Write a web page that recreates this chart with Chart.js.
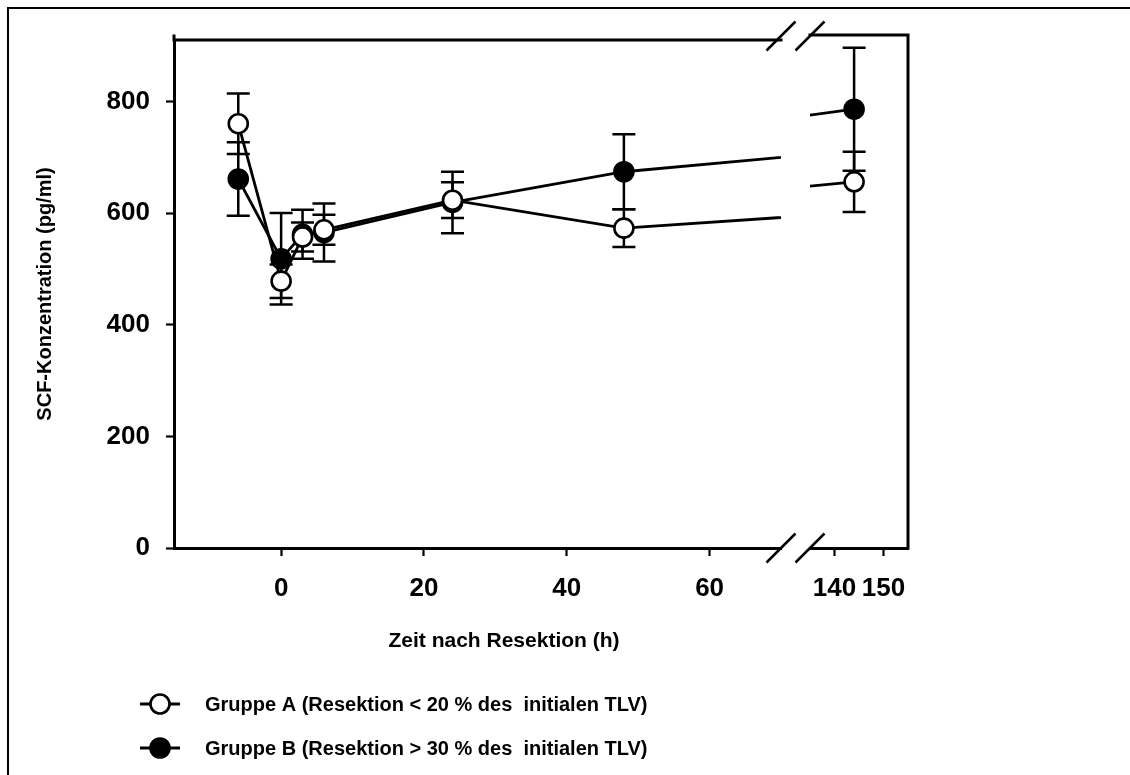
<!DOCTYPE html>
<html>
<head>
<meta charset="utf-8">
<title>SCF-Konzentration nach Resektion</title>
<script src="https://cdn.jsdelivr.net/npm/chart.js@4/dist/chart.umd.min.js"></script>
<style>
  html, body { margin: 0; padding: 0; background: #fff; }
  canvas { display: block; }
</style>
</head>
<body>
<canvas id="chart" width="1130" height="775"></canvas>
<script>
// Sampling times (hours after resection) and mean SCF values with error bars
const hours = [-6, 0, 3, 6, 24, 48, 144];
const groupA = [760, 478, 557, 570, 623, 573, 656];
const groupAErr = [54, 30, 26, 27, 32, 34, 54];
const groupB = [661, 518, 562, 565, 619, 674, 786];
const groupBErr = [66, 82, 44, 52, 55, 67, 110];

// Axis ticks: the time axis is broken between 70 h and 135 h
const yTicks = [0, 200, 400, 600, 800];
const xTicksEarly = [0, 20, 40, 60];
const xTicksLate = [140, 150];

const yTitle = 'SCF-Konzentration (pg/ml)';
const xTitle = 'Zeit nach Resektion (h)';
const legendLabels = [
  'Gruppe A (Resektion < 20 % des  initialen TLV)',
  'Gruppe B (Resektion > 30 % des  initialen TLV)'
];

const FONT = '"Liberation Sans", Arial, Helvetica, sans-serif';
Chart.defaults.font.family = FONT;
Chart.defaults.color = '#000';

const toPoints = arr => hours.map((h, i) => ({ x: h, y: arr[i] }));

function lineSet(arr, axis) {
  return {
    data: toPoints(arr), xAxisID: axis, yAxisID: 'y',
    borderColor: '#000', borderWidth: 2.8, pointRadius: 0,
    fill: false, tension: 0, order: 3, clip: false
  };
}
function markerSet(arr, axis, fillColor, order) {
  return {
    data: toPoints(arr), xAxisID: axis, yAxisID: 'y',
    showLine: false, pointRadius: 9.5, pointBorderWidth: 2.6,
    pointBackgroundColor: fillColor, pointBorderColor: '#000',
    order: order, clip: false
  };
}

// Each dataset is clipped to the horizontal extent of its own x scale
const scaleClip = {
  id: 'scaleClip',
  beforeDatasetDraw(chart, args) {
    const xs = args.meta.xScale;
    const ctx = chart.ctx;
    ctx.save();
    ctx.beginPath();
    ctx.rect(xs.left, 0, xs.right - xs.left, chart.height);
    ctx.clip();
  },
  afterDatasetDraw(chart) {
    chart.ctx.restore();
  }
};

// Vertical error bars with caps
const errorBars = {
  id: 'errorBars',
  beforeDatasetsDraw(chart) {
    const { ctx } = chart;
    const xs = chart.scales.x, xl = chart.scales.x2, ys = chart.scales.y;
    const groups = [[groupA, groupAErr], [groupB, groupBErr]];
    ctx.save();
    ctx.strokeStyle = '#000';
    ctx.lineWidth = 2.5;
    groups.forEach(([vals, errs]) => {
      hours.forEach((h, i) => {
        const sc = h <= xs.max ? xs : xl;
        const px = sc.getPixelForValue(h);
        const top = ys.getPixelForValue(vals[i] + errs[i]);
        const bot = ys.getPixelForValue(vals[i] - errs[i]);
        ctx.beginPath();
        ctx.moveTo(px, top); ctx.lineTo(px, bot);
        ctx.moveTo(px - 11.5, top); ctx.lineTo(px + 11.5, top);
        ctx.moveTo(px - 11.5, bot); ctx.lineTo(px + 11.5, bot);
        ctx.stroke();
      });
    });
    ctx.restore();
  }
};

// Outer frame, top/right box lines and the axis break marks
const frame = {
  id: 'frame',
  beforeDraw(chart) {
    const ctx = chart.ctx;
    ctx.save();
    ctx.fillStyle = '#fff';
    ctx.fillRect(0, 0, chart.width, chart.height);
    ctx.strokeStyle = '#000';
    ctx.lineWidth = 2;
    ctx.beginPath();
    ctx.moveTo(8, chart.height); ctx.lineTo(8, 8); ctx.lineTo(chart.width, 8);
    ctx.stroke();
    ctx.restore();
  },
  afterDatasetsDraw(chart) {
    const ctx = chart.ctx;
    const xs = chart.scales.x, xl = chart.scales.x2, ys = chart.scales.y;
    const top = ys.top, bottom = ys.bottom;
    ctx.save();
    ctx.strokeStyle = '#000';
    ctx.lineWidth = 3;
    ctx.lineCap = 'square';
    ctx.beginPath();
    ctx.moveTo(xs.left, top - 4); ctx.lineTo(xs.left, top);
    ctx.moveTo(xs.left, top); ctx.lineTo(xs.right, top);
    ctx.moveTo(xl.left, top - 5); ctx.lineTo(xl.right, top - 5); ctx.lineTo(xl.right, bottom);
    ctx.stroke();
    ctx.lineWidth = 2.5;
    ctx.lineCap = 'butt';
    [xs.right, xl.left].forEach(cx => {
      [top - 4, bottom].forEach(cy => {
        ctx.beginPath();
        ctx.moveTo(cx - 14.5, cy + 14.5);
        ctx.lineTo(cx + 14.5, cy - 14.5);
        ctx.stroke();
      });
    });
    ctx.restore();
  },
  afterDraw(chart) {
    const ctx = chart.ctx;
    ctx.save();
    ctx.fillStyle = '#000';
    ctx.textAlign = 'center';
    ctx.textBaseline = 'middle';
    ctx.font = 'bold 21px ' + FONT;
    ctx.fillText(xTitle, 504, 641);

    // legend
    const rows = [{ y: 704, fill: '#fff' }, { y: 748, fill: '#000' }];
    ctx.textAlign = 'left';
    ctx.font = 'bold 20px ' + FONT;
    rows.forEach((r, i) => {
      ctx.strokeStyle = '#000';
      ctx.lineWidth = 2.8;
      ctx.beginPath();
      ctx.moveTo(140, r.y); ctx.lineTo(180, r.y);
      ctx.stroke();
      ctx.beginPath();
      ctx.arc(160, r.y, 9.5, 0, Math.PI * 2);
      ctx.fillStyle = r.fill;
      ctx.fill();
      ctx.lineWidth = 2.6;
      ctx.stroke();
      ctx.fillStyle = '#000';
      ctx.fillText(legendLabels[i], 205, r.y + 1);
    });
    ctx.restore();
  }
};

const tickFont = { family: FONT, size: 26, weight: 'bold' };
const xHeight = 227;

function xScale(min, max, ticks, weight) {
  return {
    type: 'linear', position: 'bottom', stack: 'time', stackWeight: weight,
    min: min, max: max,
    afterBuildTicks: s => { s.ticks = ticks.map(v => ({ value: v })); },
    afterFit: s => { s.height = xHeight; },
    ticks: { font: tickFont, color: '#000', padding: 17, autoSkip: false, maxRotation: 0, minRotation: 0 },
    grid: { drawOnChartArea: false, drawTicks: true, tickLength: 8, tickWidth: 2.2, color: '#000' },
    border: { display: true, color: '#000', width: 3 }
  };
}

new Chart(document.getElementById('chart'), {
  type: 'line',
  data: {
    datasets: [
      markerSet(groupA, 'x', '#fff', 0),
      markerSet(groupA, 'x2', '#fff', 0),
      markerSet(groupB, 'x', '#000', 1),
      markerSet(groupB, 'x2', '#000', 1),
      lineSet(groupA, 'x'),
      lineSet(groupA, 'x2'),
      lineSet(groupB, 'x'),
      lineSet(groupB, 'x2')
    ]
  },
  options: {
    responsive: false,
    devicePixelRatio: 1,
    animation: false,
    events: [],
    layout: { padding: { left: 0, top: 40, right: 222, bottom: 0 } },
    plugins: { legend: { display: false }, tooltip: { enabled: false } },
    scales: {
      x: xScale(-15, 70, xTicksEarly, 607),
      xgap: {
        type: 'linear', position: 'bottom', stack: 'time', stackWeight: 29,
        min: 0, max: 1,
        afterFit: s => { s.height = xHeight; },
        ticks: { display: false },
        grid: { display: false },
        border: { display: false }
      },
      x2: xScale(135, 155, xTicksLate, 98),
      y: {
        type: 'linear', position: 'left', min: 0, max: 910,
        afterBuildTicks: s => { s.ticks = yTicks.map(v => ({ value: v })); },
        afterFit: s => { s.width = 174; },
        ticks: { font: tickFont, color: '#000', padding: 16 },
        grid: { drawOnChartArea: false, drawTicks: true, tickLength: 8, tickWidth: 2.2, color: '#000' },
        border: { display: true, color: '#000', width: 3 },
        title: {
          display: true, text: yTitle, color: '#000',
          font: { family: FONT, size: 20, weight: 'bold' },
          padding: { top: 33, bottom: 0 }
        }
      }
    }
  },
  plugins: [scaleClip, errorBars, frame]
});
</script>
</body>
</html>
